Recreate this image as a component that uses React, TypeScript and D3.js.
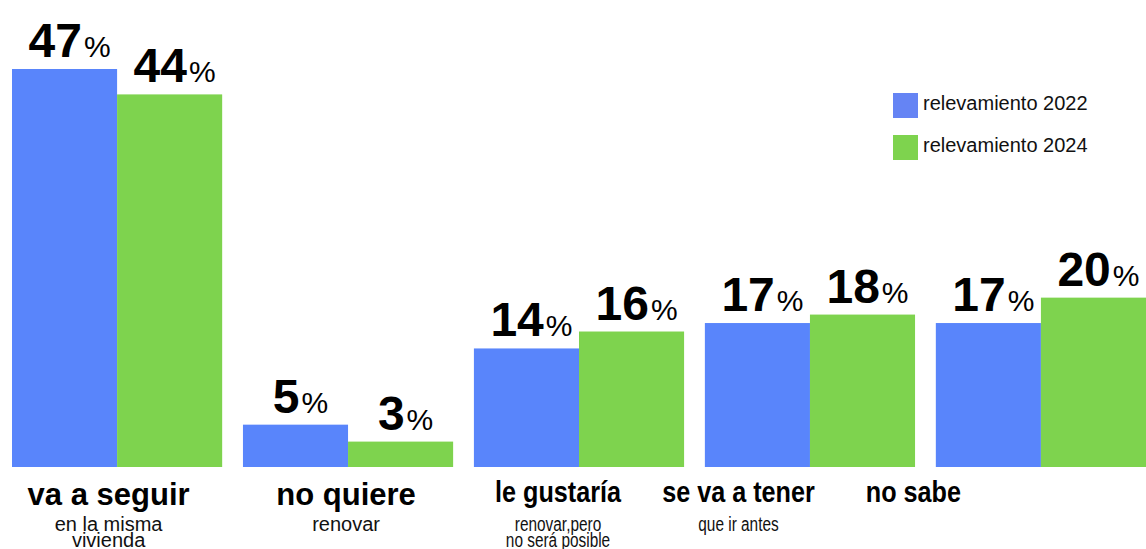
import React from "react";
import * as d3 from "d3";

const categories = ["va a seguir", "no quiere", "le gustaría", "se va a tener", "no sabe"];
const subLabels: string[][] = [
  ["en la misma", "vivienda"],
  ["renovar"],
  ["renovar,pero", "no será posible"],
  ["que ir antes"],
  [],
];
const series = ["relevamiento 2022", "relevamiento 2024"];
const values2022 = [47, 5, 14, 17, 17];
const values2024 = [44, 3, 16, 18, 20];

// layout tweaks (not data)
const labelDx = [-8.5, -2, -21, -71.5, -127.5];
const labelScaleX = [1, 1, 0.84, 0.84, 0.84];
const subScaleX = [1, 1, 0.77, 0.77, 0.77];

const W = 1146;
const H = 549;
const colors = ["#5985fb", "#7ed34e"];
const legendColors = ["#6584f4", "#7ed34e"];
const FONT = "'Liberation Sans', Arial, Helvetica, sans-serif";

export default function App() {
  const x0 = d3.scaleBand<string>().domain(categories).range([12, 1146]).paddingInner(0.09).paddingOuter(0);
  const x1 = d3.scaleBand<string>().domain(series).range([0, x0.bandwidth()]).padding(0);
  const y = d3.scaleLinear().domain([0, 47]).range([467, 69]);
  const seriesVals = [values2022, values2024];

  return (
    <svg width={W} height={H} style={{ position: "absolute", left: 0, top: 0, background: "#fff" }} fontFamily={FONT}>
      {categories.map((c, i) => {
        const gx = x0(c)!;
        const cx = gx + x0.bandwidth() / 2 + labelDx[i];
        return (
          <g key={c}>
            {series.map((s, j) => {
              const v = seriesVals[j][i];
              const bx = gx + x1(s)!;
              const by = y(v);
              return (
                <g key={s}>
                  <rect x={bx} y={by} width={x1.bandwidth()} height={y(0) - by} fill={colors[j]} />
                  <text x={bx + x1.bandwidth() / 2 + 5} y={by - 12} textAnchor="middle" fill="#000">
                    <tspan fontSize={48} fontWeight="bold">{v}</tspan>
                    <tspan fontSize={30} dx={2}>%</tspan>
                  </text>
                </g>
              );
            })}
            <text
              transform={`translate(${cx},${labelScaleX[i] === 1 ? 505 : 502}) scale(${labelScaleX[i]},1)`}
              textAnchor="middle"
              fontSize={labelScaleX[i] === 1 ? 31 : 30}
              fontWeight="bold"
              fill="#000"
            >
              {c}
            </text>
            {subLabels[i].map((t, k) => (
              <text
                key={k}
                transform={`translate(${cx},${531 + k * 16}) scale(${subScaleX[i]},1)`}
                textAnchor="middle"
                fontSize={20}
                fill="#111"
              >
                {t}
              </text>
            ))}
          </g>
        );
      })}
      {series.map((s, j) => (
        <g key={s} transform={`translate(893,${93 + j * 42})`}>
          <rect width={25} height={25} fill={legendColors[j]} />
          <text x={30} y={17} fontSize={20} fill="#111">{s}</text>
        </g>
      ))}
    </svg>
  );
}
